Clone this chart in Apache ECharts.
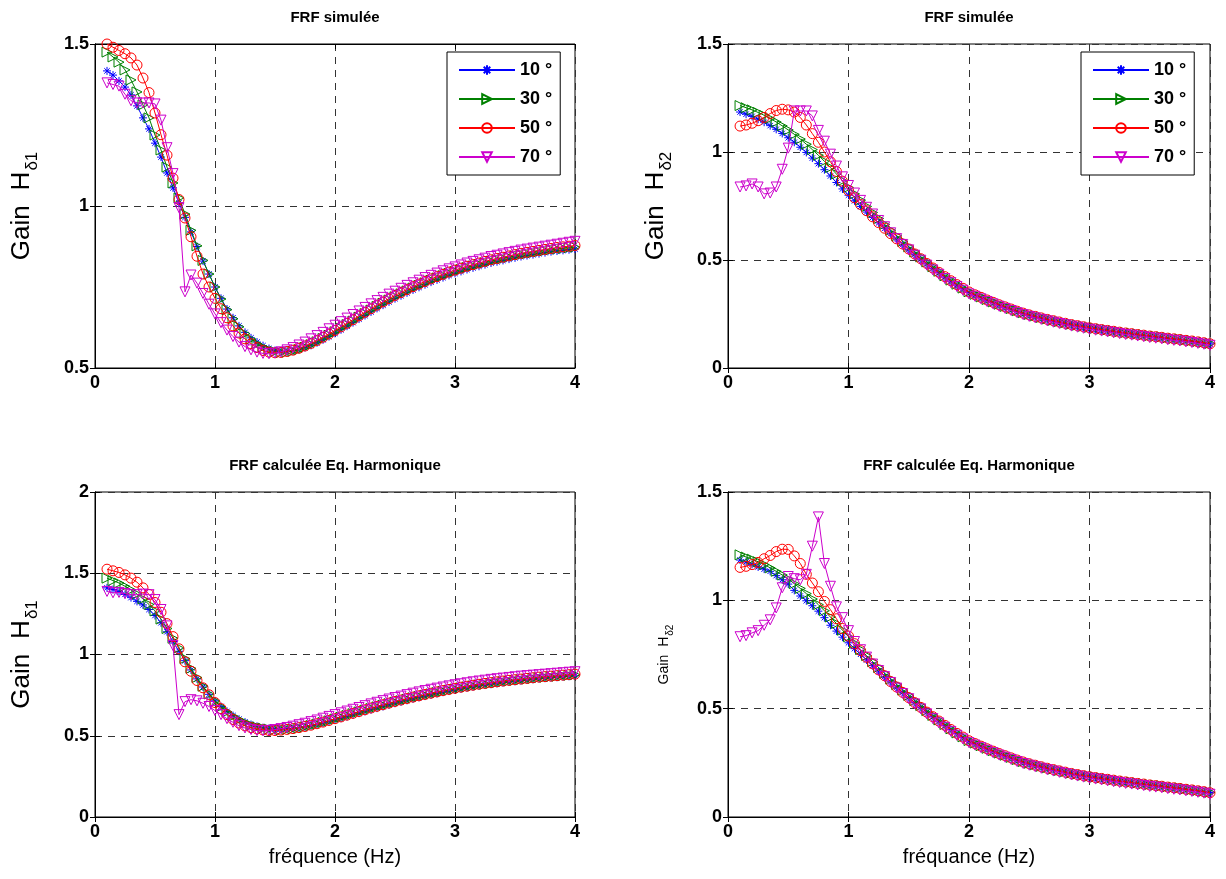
<!DOCTYPE html>
<html>
<head>
<meta charset="utf-8">
<script src="https://cdn.jsdelivr.net/npm/echarts@6/dist/echarts.min.js"></script>
<style>
html,body{margin:0;padding:0;background:#fff;}
#chart{width:1226px;height:879px;}
</style>
</head>
<body>
<div id="chart"></div>
<script>
// ---------- DATA ----------
const freq = [0.1,0.15,0.2,0.25,0.3,0.35,0.4,0.45,0.5,0.55,0.6,0.65,0.7,0.75,0.8,0.85,0.9,0.95,
1,1.05,1.1,1.15,1.2,1.25,1.3,1.35,1.4,1.45,1.5,1.55,1.6,1.65,1.7,1.75,1.8,1.85,1.9,1.95,
2,2.05,2.1,2.15,2.2,2.25,2.3,2.35,2.4,2.45,2.5,2.55,2.6,2.65,2.7,2.75,2.8,2.85,2.9,2.95,
3,3.05,3.1,3.15,3.2,3.25,3.3,3.35,3.4,3.45,3.5,3.55,3.6,3.65,3.7,3.75,3.8,3.85,3.9,3.95,4];

const seriesNames = ['10 °','30 °','50 °','70 °'];
const panelTitles = ['FRF simulée','FRF simulée','FRF calculée Eq. Harmonique','FRF calculée Eq. Harmonique'];
const xAxisNames = ['','','fréquence (Hz)','fréquance (Hz)'];
const yLabelMain = ['Gain','Gain','Gain','Gain'];
const yLabelSub = ['δ1','δ2','δ1','δ2'];

// Panel 1 : FRF simulée, H_delta1
const sim1_10 = [1.417,1.404,1.386,1.367,1.343,1.309,1.272,1.238,1.194,1.151,1.102,1.056,1.009,
0.965,0.92,0.875,0.83,0.79,0.75,0.715,0.682,0.655,0.63,0.61,0.593,0.58,0.569,0.56,0.554,0.551,
0.551,0.553,0.557,0.563,0.570,0.578,0.587,0.597,0.607,0.618,0.629,0.640,0.651,0.662,0.673,0.684,0.694,0.704,0.714,0.723,0.732,0.741,0.749,0.757,0.765,0.772,0.779,0.786,0.792,0.798,0.804,0.809,0.814,0.819,0.824,0.828,0.832,0.836,0.840,0.844,0.847,0.850,0.853,0.856,0.859,0.861,0.863,0.865,0.867];
const sim1_30 = [1.475,1.46,1.444,1.42,1.389,1.352,1.312,1.272,1.219,1.173,1.12,1.071,1.025,
0.975,0.925,0.877,0.832,0.79,0.75,0.713,0.68,0.652,0.627,0.606,0.589,0.575,0.564,0.556,0.551,0.548,
0.549,0.552,0.557,0.564,0.572,0.581,0.591,0.601,0.612,0.623,0.634,0.645,0.657,0.668,0.679,0.690,0.700,0.710,0.720,0.729,0.738,0.747,0.755,0.763,0.771,0.778,0.785,0.792,0.798,0.804,0.810,0.815,0.820,0.825,0.830,0.834,0.838,0.842,0.846,0.850,0.853,0.856,0.859,0.862,0.865,0.867,0.869,0.871,0.873];
const sim1_50 = [1.5,1.49,1.48,1.47,1.457,1.435,1.395,1.35,1.287,1.22,1.157,1.086,1.02,
0.963,0.905,0.845,0.79,0.75,0.715,0.683,0.655,0.63,0.608,0.59,0.575,0.563,0.554,0.549,0.547,0.548,
0.551,0.555,0.561,0.568,0.576,0.585,0.595,0.605,0.616,0.627,0.638,0.649,0.661,0.672,0.683,0.694,0.704,0.714,0.724,0.733,0.742,0.751,0.759,0.767,0.775,0.782,0.789,0.796,0.802,0.808,0.814,0.819,0.824,0.829,0.834,0.838,0.842,0.846,0.850,0.854,0.857,0.860,0.863,0.866,0.869,0.872,0.874,0.876,0.878];
const sim1_70 = [1.38,1.375,1.37,1.345,1.325,1.318,1.318,1.318,1.315,1.265,1.18,1.1,0.995,
0.735,0.787,0.762,0.73,0.697,0.667,0.64,0.617,0.597,0.58,0.566,0.556,0.549,0.545,0.544,0.546,0.55,
0.556,0.563,0.571,0.58,0.59,0.6,0.61,0.621,0.632,0.643,0.654,0.665,0.676,0.687,0.698,0.708,0.718,0.728,0.737,0.746,0.755,0.763,0.771,0.779,0.786,0.793,0.800,0.806,0.812,0.818,0.824,0.829,0.834,0.839,0.844,0.848,0.852,0.856,0.860,0.864,0.867,0.870,0.873,0.876,0.879,0.882,0.885,0.888,0.891];

// Panel 2 : FRF simulée, H_delta2
const sim2_10 = [1.185,1.175,1.165,1.152,1.138,1.122,1.105,1.086,1.066,1.045,1.022,0.998,0.972,0.946,0.918,0.889,0.859,0.829,
0.800,0.774,0.748,0.722,0.697,0.672,0.647,0.622,0.598,0.573,0.549,0.526,0.504,0.482,0.461,0.441,0.421,0.402,0.384,0.367,0.350,
0.338,0.326,0.314,0.303,0.292,0.282,0.272,0.262,0.253,0.245,0.238,0.231,0.224,0.218,0.212,0.206,0.200,0.195,0.190,0.185,
0.181,0.177,0.173,0.169,0.165,0.161,0.158,0.154,0.151,0.147,0.144,0.141,0.137,0.134,0.131,0.127,0.124,0.120,0.116,0.112];
const sim2_30 = [1.215,1.205,1.195,1.183,1.170,1.155,1.139,1.121,1.102,1.082,1.060,1.036,1.011,0.985,0.957,0.928,0.898,0.867,
0.836,0.806,0.777,0.748,0.720,0.692,0.665,0.638,0.612,0.586,0.561,0.537,0.514,0.491,0.469,0.448,0.427,0.407,0.388,0.370,0.353,
0.341,0.329,0.317,0.306,0.295,0.285,0.275,0.265,0.256,0.248,0.241,0.234,0.227,0.221,0.215,0.209,0.203,0.198,0.193,0.188,
0.184,0.180,0.176,0.172,0.168,0.164,0.161,0.157,0.154,0.150,0.147,0.144,0.140,0.137,0.134,0.130,0.127,0.123,0.119,0.114];
const sim2_50 = [1.12,1.125,1.133,1.145,1.16,1.178,1.192,1.198,1.195,1.185,1.16,1.125,1.085,1.045,1.0,0.955,0.91,0.865,
0.822,0.788,0.757,0.728,0.700,0.673,0.647,0.622,0.598,0.574,0.551,0.528,0.506,0.484,0.463,0.443,0.423,0.404,0.386,0.369,0.352,
0.339,0.327,0.315,0.304,0.293,0.283,0.273,0.263,0.254,0.246,0.239,0.232,0.225,0.219,0.213,0.207,0.201,0.196,0.191,0.186,
0.182,0.178,0.174,0.170,0.166,0.162,0.159,0.155,0.152,0.148,0.145,0.142,0.138,0.135,0.132,0.128,0.125,0.121,0.117,0.112];
const sim2_70 = [0.838,0.843,0.852,0.838,0.806,0.81,0.838,0.92,1.018,1.19,1.19,1.19,1.167,1.1,1.05,0.99,0.935,0.885,
0.845,0.81,0.776,0.744,0.713,0.683,0.654,0.626,0.599,0.572,0.547,0.522,0.499,0.476,0.454,0.434,0.414,0.395,0.377,0.360,0.343,
0.332,0.320,0.308,0.297,0.286,0.276,0.266,0.256,0.247,0.239,0.232,0.225,0.218,0.212,0.206,0.200,0.194,0.189,0.184,0.179,
0.175,0.171,0.167,0.163,0.159,0.155,0.152,0.148,0.145,0.141,0.138,0.135,0.131,0.128,0.125,0.121,0.118,0.114,0.110,0.105];

// Panel 3 : FRF calculée Eq. Harmonique, H_delta1
const cal1_10 = [1.41,1.40,1.388,1.37,1.35,1.327,1.305,1.277,1.24,1.195,1.14,1.08,1.02,
0.962,0.905,0.85,0.8,0.755,0.715,0.68,0.65,0.624,0.602,0.584,0.569,0.558,0.55,0.545,0.542,0.541,
0.542,0.545,0.549,0.555,0.562,0.570,0.579,0.588,0.598,0.608,0.618,0.628,0.639,0.650,0.660,0.670,0.680,0.690,0.700,0.709,0.718,0.727,0.736,0.744,0.752,0.760,0.768,0.775,0.782,0.789,0.795,0.801,0.807,0.812,0.817,0.822,0.827,0.831,0.835,0.839,0.843,0.847,0.851,0.854,0.857,0.860,0.863,0.866,0.869];
const cal1_30 = [1.47,1.455,1.44,1.42,1.398,1.372,1.342,1.308,1.268,1.218,1.16,1.1,1.04,
0.975,0.915,0.858,0.805,0.757,0.714,0.678,0.647,0.621,0.599,0.581,0.566,0.555,0.547,0.541,0.538,0.537,
0.539,0.543,0.548,0.555,0.563,0.572,0.582,0.592,0.603,0.614,0.625,0.636,0.647,0.658,0.668,0.678,0.688,0.698,0.707,0.716,0.725,0.734,0.742,0.750,0.758,0.766,0.774,0.781,0.788,0.795,0.801,0.807,0.813,0.818,0.823,0.828,0.833,0.837,0.841,0.845,0.849,0.853,0.857,0.860,0.863,0.866,0.869,0.872,0.875];
const cal1_50 = [1.525,1.515,1.505,1.49,1.47,1.445,1.41,1.37,1.32,1.26,1.19,1.11,1.035,
0.955,0.897,0.84,0.795,0.752,0.704,0.667,0.63,0.6,0.578,0.561,0.55,0.542,0.536,0.532,0.532,0.535,
0.539,0.544,0.550,0.557,0.565,0.574,0.584,0.594,0.605,0.616,0.627,0.638,0.649,0.660,0.671,0.681,0.691,0.701,0.711,0.720,0.729,0.738,0.746,0.754,0.762,0.770,0.778,0.785,0.792,0.799,0.805,0.811,0.817,0.822,0.827,0.832,0.837,0.841,0.845,0.849,0.853,0.857,0.861,0.864,0.867,0.870,0.873,0.876,0.879];
const cal1_70 = [1.388,1.38,1.382,1.375,1.368,1.368,1.372,1.368,1.338,1.277,1.176,1.055,0.63,
0.71,0.722,0.715,0.7,0.68,0.655,0.63,0.605,0.583,0.562,0.548,0.538,0.532,0.531,0.533,0.538,0.544,
0.551,0.559,0.568,0.577,0.587,0.597,0.608,0.619,0.630,0.641,0.652,0.663,0.674,0.685,0.696,0.706,0.716,0.726,0.735,0.744,0.753,0.762,0.770,0.778,0.786,0.793,0.800,0.807,0.814,0.820,0.826,0.832,0.837,0.842,0.847,0.851,0.855,0.859,0.863,0.867,0.870,0.873,0.876,0.879,0.882,0.885,0.888,0.891,0.894];

// Panel 4 : FRF calculée Eq. Harmonique, H_delta2
const cal2_10 = [1.186,1.177,1.166,1.154,1.144,1.134,1.114,1.095,1.075,1.046,1.02,0.998,0.975,0.95,0.92,0.885,0.858,0.83,0.804,
0.777,0.751,0.725,0.699,0.674,0.649,0.624,0.599,0.575,0.551,0.528,0.506,0.484,0.463,0.443,0.423,0.404,0.386,0.368,0.351,
0.339,0.327,0.315,0.304,0.293,0.283,0.273,0.263,0.254,0.246,0.239,0.232,0.225,0.219,0.213,0.207,0.201,0.196,0.191,0.186,
0.182,0.178,0.174,0.170,0.166,0.162,0.159,0.155,0.152,0.148,0.145,0.142,0.138,0.135,0.132,0.128,0.125,0.121,0.117,0.113];
const cal2_30 = [1.21,1.2,1.19,1.178,1.165,1.15,1.134,1.117,1.098,1.077,1.055,1.031,1.006,0.98,0.952,0.923,0.893,0.862,0.832,
0.802,0.773,0.745,0.717,0.69,0.663,0.637,0.611,0.586,0.561,0.537,0.514,0.491,0.469,0.448,0.427,0.407,0.388,0.370,0.353,
0.341,0.329,0.317,0.306,0.295,0.285,0.275,0.265,0.256,0.248,0.241,0.234,0.227,0.221,0.215,0.209,0.203,0.198,0.193,0.188,
0.184,0.180,0.176,0.172,0.168,0.164,0.161,0.157,0.154,0.150,0.147,0.144,0.140,0.137,0.134,0.130,0.127,0.123,0.119,0.114];
const cal2_50 = [1.152,1.157,1.165,1.175,1.192,1.207,1.225,1.236,1.235,1.205,1.17,1.12,1.08,1.04,0.995,0.957,0.915,0.87,0.835,
0.80,0.768,0.737,0.707,0.679,0.652,0.625,0.6,0.575,0.551,0.528,0.506,0.484,0.463,0.443,0.423,0.404,0.386,0.369,0.352,
0.339,0.327,0.315,0.304,0.293,0.283,0.273,0.263,0.254,0.246,0.239,0.232,0.225,0.219,0.213,0.207,0.201,0.196,0.191,0.186,
0.182,0.178,0.174,0.170,0.166,0.162,0.159,0.155,0.152,0.148,0.145,0.142,0.138,0.135,0.132,0.128,0.125,0.121,0.117,0.112];
const cal2_70 = [0.832,0.837,0.85,0.86,0.885,0.91,0.965,1.058,1.11,1.1,1.095,1.12,1.25,1.385,1.17,1.065,0.97,0.92,0.86,
0.81,0.772,0.738,0.706,0.676,0.648,0.621,0.595,0.57,0.546,0.522,0.499,0.476,0.454,0.434,0.414,0.395,0.377,0.360,0.343,
0.332,0.320,0.308,0.297,0.286,0.276,0.266,0.256,0.247,0.239,0.232,0.225,0.218,0.212,0.206,0.200,0.194,0.189,0.184,0.179,
0.175,0.171,0.167,0.163,0.159,0.155,0.152,0.148,0.145,0.141,0.138,0.135,0.131,0.128,0.125,0.121,0.118,0.114,0.110,0.105];

const panelSeries = [
  [sim1_10, sim1_30, sim1_50, sim1_70],
  [sim2_10, sim2_30, sim2_50, sim2_70],
  [cal1_10, cal1_30, cal1_50, cal1_70],
  [cal2_10, cal2_30, cal2_50, cal2_70]
];
const yRanges = [[0.5,1.5],[0,1.5],[0,2],[0,1.5]];

// ---------- STYLE ----------
const F = 'Arial, "Liberation Sans", Helvetica, sans-serif';
const colors = ['#0000ff','#008000','#ff0000','#cc00cc'];
const star = 'path://M5,0L5,10M0,5L10,5M1.6,1.6L8.4,8.4M1.6,8.4L8.4,1.6';
const symbols = [star,'triangle','circle','triangle'];
const symRot = [0,-90,0,180];
const symSize = [8,10,10,10];

const grids = [
  {left:95, top:44, width:480, height:324},
  {left:728, top:44, width:482, height:324},
  {left:95, top:492, width:480, height:325},
  {left:728, top:492, width:482, height:325}
];
// y-label layout: centre x of the main text, fonts, gap before H, subscript shift
const yLabelLayout = [
  {cx:22, fm:26, gap:15, fs:17, dy:10},
  {cx:656, fm:26, gap:15, fs:17, dy:10},
  {cx:22, fm:26, gap:15, fs:17, dy:10},
  {cx:664, fm:14, gap:8, fs:10, dy:6}
];

const dashed = {show:true, lineStyle:{color:'#333', type:[7,6], width:1}};
const tickFont = {color:'#000', fontFamily:F, fontWeight:'bold', fontSize:18};

const xAxes = [], yAxes = [], series = [];
grids.forEach((g,k)=>{
  g.show = true; g.borderColor = '#000'; g.borderWidth = 1; g.backgroundColor = '#fff';
  xAxes.push({type:'value', gridIndex:k, min:0, max:4, interval:1, position:'bottom',
    axisLine:{show:true, lineStyle:{color:'#000'}}, axisTick:{show:true, inside:true, length:5, lineStyle:{color:'#000'}},
    axisLabel:Object.assign({margin:6}, tickFont), splitLine:dashed,
    name:xAxisNames[k], nameLocation:'middle', nameGap:30,
    nameTextStyle:{color:'#000', fontFamily:F, fontSize:20}});
  xAxes.push({type:'value', gridIndex:k, min:0, max:4, interval:1, position:'top',
    axisLine:{show:true, lineStyle:{color:'#000'}}, axisTick:{show:true, inside:true, length:5, lineStyle:{color:'#000'}},
    axisLabel:{show:false}, splitLine:{show:false}});
  yAxes.push({type:'value', gridIndex:k, min:yRanges[k][0], max:yRanges[k][1], interval:0.5, position:'left',
    axisLine:{show:true, lineStyle:{color:'#000'}}, axisTick:{show:true, inside:true, length:5, lineStyle:{color:'#000'}},
    axisLabel:Object.assign({margin:6}, tickFont), splitLine:dashed});
  yAxes.push({type:'value', gridIndex:k, min:yRanges[k][0], max:yRanges[k][1], interval:0.5, position:'right',
    axisLine:{show:true, lineStyle:{color:'#000'}}, axisTick:{show:true, inside:true, length:5, lineStyle:{color:'#000'}},
    axisLabel:{show:false}, splitLine:{show:false}});
  panelSeries[k].forEach((arr,s)=>{
    series.push({
      name:seriesNames[s], type:'line', xAxisIndex:2*k, yAxisIndex:2*k,
      data:freq.map((f,i)=>[f, arr[i]]),
      symbol:symbols[s], symbolRotate:symRot[s], symbolSize:symSize[s], showSymbol:true, showAllSymbol:true,
      lineStyle:{color:colors[s], width:1},
      itemStyle:{color:'rgba(255,255,255,0)', borderColor:colors[s], borderWidth:1},
      emphasis:{disabled:true}, animation:false, z:2+s
    });
  });
});

// measure text widths for the rotated y labels
const mctx = document.createElement('canvas').getContext('2d');
function tw(t, font){ mctx.font = font; return mctx.measureText(t).width; }

const graphics = [];
grids.forEach((g,k)=>{
  graphics.push({type:'text', x:g.left + g.width/2, y:g.top-26, z:100,
    style:{text:panelTitles[k], textAlign:'center', textVerticalAlign:'middle', font:'bold 15px '+F, fill:'#000'}});
  const L = yLabelLayout[k];
  const fMain = L.fm+'px '+F, fSub = L.fs+'px '+F;
  const wG = tw(yLabelMain[k], fMain), wH = tw('H', fMain), wS = tw(yLabelSub[k], fSub);
  const total = wG + L.gap + wH + 1 + wS;
  const y0 = g.top + g.height/2 + total/2;
  graphics.push({type:'group', x:L.cx, y:y0, rotation:Math.PI/2, z:100, children:[
    {type:'text', x:0, y:0, style:{text:yLabelMain[k], font:fMain, fill:'#000', textAlign:'left', textVerticalAlign:'middle'}},
    {type:'text', x:wG+L.gap, y:0, style:{text:'H', font:fMain, fill:'#000', textAlign:'left', textVerticalAlign:'middle'}},
    {type:'text', x:wG+L.gap+wH+1, y:L.dy, style:{text:yLabelSub[k], font:fSub, fill:'#000', textAlign:'left', textVerticalAlign:'middle'}}
  ]});
});

const legendBase = {data:seriesNames, orient:'vertical', top:52, backgroundColor:'#fff',
  borderColor:'#000', borderWidth:1, padding:[9,8,9,11], itemGap:11, itemWidth:56, itemHeight:12,
  selectedMode:false, textStyle:{fontFamily:F, fontWeight:'bold', fontSize:18, color:'#000'}};

const option = {
  backgroundColor:'#fff',
  animation:false,
  grid:grids,
  xAxis:xAxes,
  yAxis:yAxes,
  legend:[Object.assign({left:447}, legendBase), Object.assign({left:1081}, legendBase)],
  graphic:graphics,
  series:series
};
const chart = echarts.init(document.getElementById('chart'));
chart.setOption(option);
</script>
</body>
</html>
